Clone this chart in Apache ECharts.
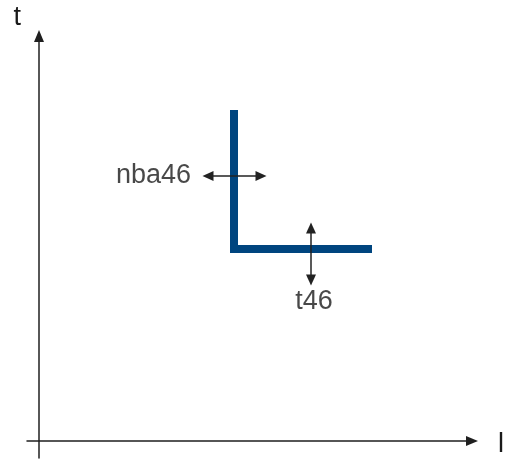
<!DOCTYPE html>
<html><head><meta charset="utf-8">
<script src="https://cdn.jsdelivr.net/npm/echarts@6/dist/echarts.min.js"></script>
<style>html,body{margin:0;padding:0;background:#fff}#c{width:505px;height:459px}</style>
</head><body><div id="c"></div>
<script>
// Schematic coordinates (arbitrary units)
const xRange = [-12, 433];
const yRange = [-17, 405];
const curveX = [195, 195, 333];
const curveY = [331, 192, 192];
const hArrow = [[169, 265], [222, 265]];
const vArrow = [[272, 213], [272, 161]];
const labelNames = ['nba46', 't46'];
const labelPoints = [[164, 265], [272, 156]];
const axisNames = ['l', 't'];

const font = 'Liberation Sans, Arial, sans-serif';
const axisColor = '#1f1f1f';
const textColor = '#1a1a1a';

const chart = echarts.init(document.getElementById('c'), null, {renderer: 'canvas'});
chart.setOption({
  animation: false,
  backgroundColor: '#fff',
  grid: {left: 27, right: 33, top: 36, bottom: 1, containLabel: false, outerBoundsMode: 'none'},
  xAxis: {
    type: 'value', min: xRange[0], max: xRange[1],
    name: axisNames[0], nameLocation: 'end', nameGap: 26,
    nameTextStyle: {fontFamily: font, fontSize: 27, color: textColor, verticalAlign: 'top', lineHeight: 8},
    axisLine: {show: true, onZero: true, symbol: ['none', 'triangle'], symbolSize: [10, 12],
      lineStyle: {color: axisColor, width: 1.5}},
    axisTick: {show: false}, axisLabel: {show: false}, splitLine: {show: false}
  },
  yAxis: {
    type: 'value', min: yRange[0], max: yRange[1],
    name: axisNames[1], nameLocation: 'end', nameGap: 5,
    nameTextStyle: {fontFamily: font, fontSize: 27, color: textColor, align: 'right', padding: [0, 18, 0, 0]},
    axisLine: {show: true, onZero: true, symbol: ['none', 'triangle'], symbolSize: [10, 12],
      lineStyle: {color: axisColor, width: 1.5}},
    axisTick: {show: false}, axisLabel: {show: false}, splitLine: {show: false}
  },
  series: [
    {
      type: 'line',
      data: curveX.map((x, i) => [x, curveY[i]]),
      symbol: 'none',
      lineStyle: {color: '#00457f', width: 8, cap: 'butt', join: 'miter'},
      z: 2,
      markLine: {
        silent: true,
        symbol: ['triangle', 'triangle'],
        symbolSize: [10, 11],
        label: {show: false},
        lineStyle: {color: '#222', width: 1.5, type: 'solid'},
        data: [
          [{coord: hArrow[0]}, {coord: hArrow[1]}],
          [{coord: vArrow[0]}, {coord: vArrow[1]}]
        ],
        z: 5
      }
    },
    {
      type: 'scatter',
      symbolSize: 0,
      data: [
        {value: labelPoints[0], label: {position: 'left', distance: 12}},
        {value: labelPoints[1], label: {position: 'bottom', distance: 3, offset: [3, 0]}}
      ].map((d, i) => Object.assign(d, {name: labelNames[i]})),
      label: {show: true, formatter: '{b}', fontFamily: font, fontSize: 27, color: textColor},
      z: 6
    }
  ]
});
</script></body></html>
